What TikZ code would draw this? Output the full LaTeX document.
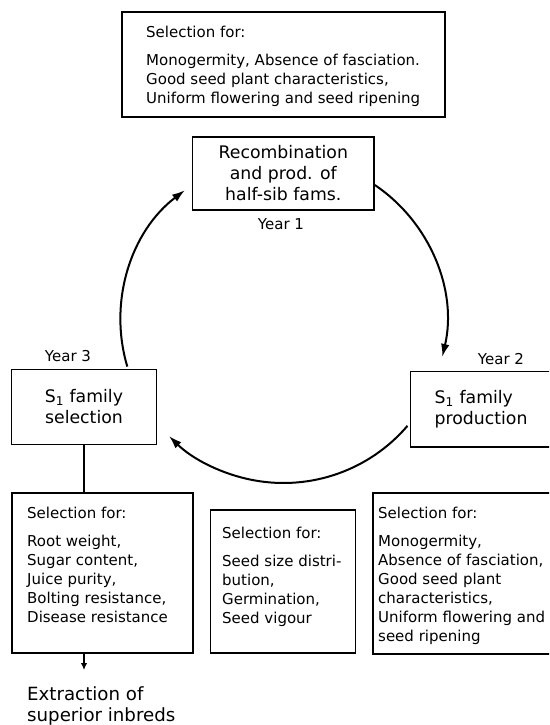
\documentclass[tikz,border=0pt]{standalone}
\usepackage{fontspec}
\setmainfont{DejaVu Sans}
\usetikzlibrary{arrows.meta}

\begin{document}
\begin{tikzpicture}[x=1pt, y=1pt,
  box/.style={draw, line width=1.2pt, inner sep=0pt},
  biglabel/.style={font=\fontsize{17.3}{21}\selectfont},
  smalltext/.style={font=\fontsize{15}{19}\selectfont, align=left, inner sep=0pt, anchor=north west},
  yearlabel/.style={font=\fontsize{15}{19}\selectfont, inner sep=0pt},
  cycle arrow/.style={line width=2pt, -{Latex[length=13pt, width=8.5pt]}},
  down arrow/.style={line width=1.8pt, -{Latex[length=7pt, width=6.5pt]}}
]
% page frame
\fill[white] (0,0) rectangle (549,-725);
\clip (0,0) rectangle (549,-725);

% selection criteria for the recombination year
\node[box, minimum width=323pt, minimum height=105pt] (topsel) at (283.5,-64.5) {};
\node[smalltext] (topseltext) at (146,-26)
  {Selection for:\\[9pt]
   Monogermity, Absence of fasciation.\\
   Good seed plant characteristics,\\
   Uniform flowering and seed ripening};

% the three steps of the cycle
\node[box, biglabel, align=center, minimum width=181.4pt, minimum height=73pt] (recomb) at (283.3,-173.5)
  {Recombination\\and prod. of\\half-sib fams.};
\node[yearlabel] (year1) at (281,-224) {Year 1};

\node[box, biglabel, align=center, minimum width=145pt, minimum height=75pt] (s1sel) at (84,-407)
  {S\textsubscript{1} family\\selection};
\node[yearlabel] (year3) at (68,-356) {Year 3};

\node[box, biglabel, align=left, anchor=west, text width=130pt, inner xsep=24.5pt, minimum height=75.5pt] (s1prod) at (409.5,-409.3)
  {S\textsubscript{1} family\\production};
\node[yearlabel] (year2) at (501,-359) {Year 2};

% yearly cycle
\coordinate (ctr) at (283.5,-320);
\draw[cycle arrow] (ctr) ++(55.9:163) arc[start angle=55.9, end angle=-13.1, radius=163];
\draw[cycle arrow] (ctr) ++(-40.5:163) arc[start angle=-40.5, end angle=-134.6, radius=163];
\draw[cycle arrow] (ctr) ++(196.6:163) arc[start angle=196.6, end angle=127.2, radius=163];

% selection boxes below the cycle
\node[box, minimum width=181pt, minimum height=160pt] (selL) at (102.5,-573) {};
\node[smalltext] (selLtext) at (27,-507)
  {Selection for:\\[9pt]
   Root weight,\\
   Sugar content,\\
   Juice purity,\\
   Bolting resistance,\\
   Disease resistance};

\node[box, minimum width=145pt, minimum height=143pt] (selM) at (283.2,-581.5) {};
\node[smalltext] (selMtext) at (222,-527)
  {Selection for:\\[9pt]
   Seed size distri-\\
   bution,\\
   Germination,\\
   Seed vigour};

\node[box, minimum width=210pt, minimum height=161pt] (selR) at (478,-573.5) {};
\node[smalltext] (selRtext) at (378,-507)
  {Selection for:\\[9pt]
   Monogermity,\\
   Absence of fasciation,\\
   Good seed plant\\
   characteristics,\\
   Uniform flowering and\\
   seed ripening};

% from selection to inbred extraction
\draw[line width=1.8pt] (s1sel.south) -- (s1sel.south |- selL.north);
\coordinate (extrtip) at (84,-670);
\draw[down arrow] (selL.south -| s1sel.south) -- (extrtip);
\node[anchor=north west, inner sep=0pt, align=left, font=\fontsize{18.2}{21.5}\selectfont] (extr) at (27,-686)
  {Extraction of\\superior inbreds};
\end{tikzpicture}
\end{document}
